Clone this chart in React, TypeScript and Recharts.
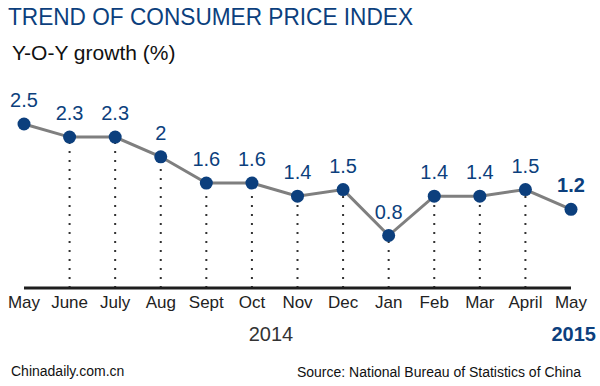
import React from 'react';
import { LineChart, Line, XAxis, YAxis, ReferenceLine, LabelList } from 'recharts';

const months = ['May', 'June', 'July', 'Aug', 'Sept', 'Oct', 'Nov', 'Dec', 'Jan', 'Feb', 'Mar', 'April', 'May'];
const cpiValues = [2.5, 2.3, 2.3, 2.0, 1.6, 1.6, 1.4, 1.5, 0.8, 1.4, 1.4, 1.5, 1.2];
const valueLabels = ['2.5', '2.3', '2.3', '2', '1.6', '1.6', '1.4', '1.5', '0.8', '1.4', '1.4', '1.5', '1.2'];
const yearLabels = ['2014', '2015'];

const data = months.map((m, i) => ({ key: i, month: m, value: cpiValues[i], label: valueLabels[i] }));

const FONT = '"Liberation Sans", Arial, Helvetica, sans-serif';
const BLUE = '#0c3f7d';

const renderLabel = (props: any) => {
  const vb = props.viewBox || {};
  const x = props.x ?? vb.x;
  const y = props.y ?? vb.y;
  const idx = props.index;
  const isLast = idx === data.length - 1;
  return (
    <text
      x={x}
      y={y - 17}
      textAnchor="middle"
      fontSize={20}
      fontFamily={FONT}
      fontWeight={isLast ? 'bold' : 'normal'}
      fill={BLUE}
    >
      {valueLabels[idx]}
    </text>
  );
};

export default function App() {
  return (
    <div style={{ position: 'absolute', left: 0, top: 0, width: 600, height: 386, background: '#fff' }}>
      <LineChart
        width={600}
        height={386}
        data={data}
        margin={{ top: 124, right: 29, bottom: 68, left: 24 }}
      >
        <XAxis
          dataKey="key"
          type="category"
          tickFormatter={(_v: any, i: number) => months[i]}
          axisLine={{ stroke: '#1e1e1e', strokeWidth: 3 }}
          tickLine={false}
          interval={0}
          tick={{ fontSize: 17, fill: '#222', fontFamily: FONT }}
        />
        <YAxis hide domain={[0, 2.5]} />
        {data.slice(1, data.length - 1).map((d) => (
          <ReferenceLine
            key={d.key}
            segment={[{ x: d.key, y: 0 }, { x: d.key, y: d.value }]}
            stroke="#333"
            strokeWidth={2}
            strokeDasharray="2 7"
          />
        ))}
        <Line
          dataKey="value"
          stroke="#7f7f7f"
          strokeWidth={3}
          isAnimationActive={false}
          dot={{ r: 6.5, fill: BLUE, stroke: BLUE, strokeWidth: 0 }}
          activeDot={false}
        >
          <LabelList dataKey="value" content={renderLabel} />
        </Line>
      </LineChart>
      <svg
        width={600}
        height={386}
        style={{ position: 'absolute', left: 0, top: 0, pointerEvents: 'none' }}
      >
        <text x={8} y={25} fontSize={24} fontFamily={FONT} fill={BLUE} textLength={405} lengthAdjust="spacingAndGlyphs">
          TREND OF CONSUMER PRICE INDEX
        </text>
        <text x={12} y={60} fontSize={21} fontFamily={FONT} fill="#111">
          Y-O-Y growth (%)
        </text>
        <text x={271} y={341} fontSize={20} fontFamily={FONT} fill="#333" textAnchor="middle">
          {yearLabels[0]}
        </text>
        <text x={596} y={341} fontSize={20} fontFamily={FONT} fill={BLUE} fontWeight="bold" textAnchor="end">
          {yearLabels[1]}
        </text>
        <text x={11} y={376} fontSize={14} fontFamily={FONT} fill="#111">
          Chinadaily.com.cn
        </text>
        <text x={581} y={377} fontSize={14} fontFamily={FONT} fill="#111" textAnchor="end">
          Source: National Bureau of Statistics of China
        </text>
      </svg>
    </div>
  );
}
